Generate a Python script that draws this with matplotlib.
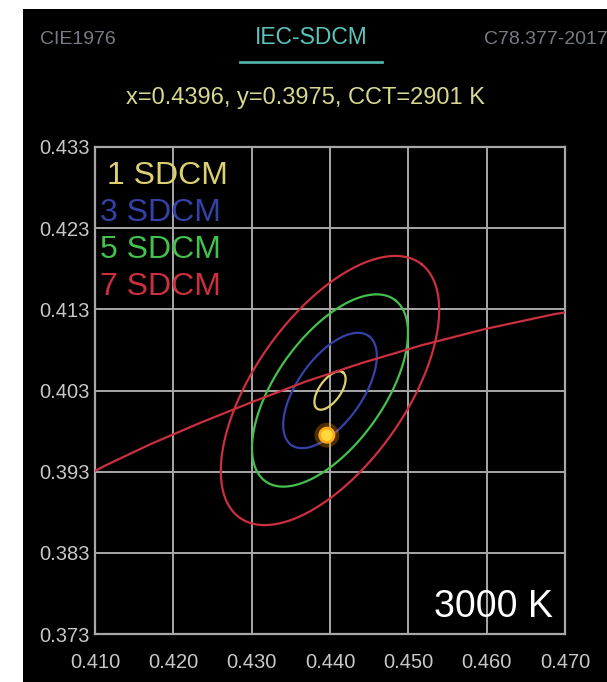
import numpy as np
import matplotlib.pyplot as plt
from matplotlib.patches import Rectangle

plt.rcParams['font.family'] = ['Liberation Sans', 'DejaVu Sans']

# IEC-SDCM (MacAdam) ellipse for F3000
center_x, center_y = 0.440, 0.403
semi_a, semi_b, theta_deg = 0.00278, 0.00136, 53.13
sdcm_steps = [1, 3, 5, 7]
sdcm_colors = ["#dcd070", "#3442a8", "#44c04c", "#cc2f3e"]
sdcm_labels = ["1 SDCM", "3 SDCM", "5 SDCM", "7 SDCM"]

# Planckian locus points (CCT, x, y)
locus_cct = [2500, 2600, 2700, 2800, 2900, 3000, 3100, 3200, 3300, 3400, 3500]
locus_x = [0.4770, 0.4686, 0.4599, 0.4518, 0.4441, 0.4369, 0.4301, 0.4234, 0.4171, 0.4112, 0.4053]
locus_y = [0.4137, 0.4124, 0.4106, 0.4086, 0.4064, 0.4041, 0.4016, 0.3990, 0.3964, 0.3937, 0.3907]

# measured point
meas_x, meas_y, meas_cct = 0.4396, 0.3975, 2901

x_ticks = [0.410, 0.420, 0.430, 0.440, 0.450, 0.460, 0.470]
y_ticks = [0.373, 0.383, 0.393, 0.403, 0.413, 0.423, 0.433]

fig = plt.figure(figsize=(6.07, 6.82), dpi=100, facecolor="white")
bg = Rectangle((23 / 607, 0), 1, (682 - 9) / 682, transform=fig.transFigure,
               facecolor="black", edgecolor="none", zorder=-10)
fig.add_artist(bg)

ax = fig.add_axes([95 / 607, 48 / 682, 470 / 607, 487 / 682])
ax.set_facecolor("black")

t = np.linspace(0, 2 * np.pi, 400)
th = np.radians(theta_deg)
for n, col in zip(sdcm_steps, sdcm_colors):
    ex = n * semi_a * np.cos(t)
    ey = n * semi_b * np.sin(t)
    ax.plot(center_x + ex * np.cos(th) - ey * np.sin(th),
            center_y + ex * np.sin(th) + ey * np.cos(th),
            color=col, lw=1.6, zorder=3)

ax.plot(locus_x, locus_y, color="#cc2f3e", lw=1.6, zorder=3)

# glowing point
ax.scatter([meas_x], [meas_y], s=320, color="#ff9900", alpha=0.3, edgecolors="none", zorder=5)
ax.scatter([meas_x], [meas_y], s=150, color="#ffa81a", edgecolors="none", zorder=6)
ax.scatter([meas_x], [meas_y], s=70, color="#ffd83a", edgecolors="none", zorder=7)

ax.set_xlim(x_ticks[0], x_ticks[-1])
ax.set_ylim(y_ticks[0], y_ticks[-1])
ax.set_xticks(x_ticks)
ax.set_yticks(y_ticks)
ax.set_xticklabels([f"{v:.3f}" for v in x_ticks])
ax.set_yticklabels([f"{v:.3f}" for v in y_ticks])
ax.tick_params(length=0, colors="#c8c8c8", labelsize=14.5)
ax.tick_params(axis="x", pad=14)
ax.tick_params(axis="y", pad=4)
ax.grid(True, color="#a8a8a8", lw=1.4, zorder=1)
for s in ax.spines.values():
    s.set_color("#a8a8a8")
    s.set_linewidth(1.6)

# legend text
for i, (lab, col) in enumerate(zip(sdcm_labels, sdcm_colors)):
    ax.text(0.026 if i == 0 else 0.011, 0.925 - i * 0.076, lab, transform=ax.transAxes,
            color=col, fontsize=23, va="baseline", ha="left", zorder=8)

ax.text(0.975, 0.035, "3000 K", transform=ax.transAxes, color="white",
        fontsize=27, ha="right", va="baseline", zorder=8)

# header tabs
fig.text(40 / 607, 1 - 40 / 682, "CIE1976", color="#767c84", fontsize=14, va="center", ha="left")
fig.text(311 / 607, 1 - 38 / 682, "IEC-SDCM", color="#5cc4bc", fontsize=16.5, va="center", ha="center")
fig.text(484 / 607, 1 - 40 / 682, "C78.377-2017", color="#767c84", fontsize=14, va="center", ha="left")
fig.add_artist(plt.Line2D([240 / 607, 382 / 607], [1 - 62 / 682, 1 - 62 / 682], color="#4fb0a8", lw=2))
fig.text(305 / 607, 1 - 98 / 682, f"x={meas_x:.4f}, y={meas_y:.4f}, CCT={meas_cct} K",
         color="#d8d890", fontsize=17, va="center", ha="center")

fig.savefig("out.png", dpi=100, facecolor=fig.get_facecolor())
